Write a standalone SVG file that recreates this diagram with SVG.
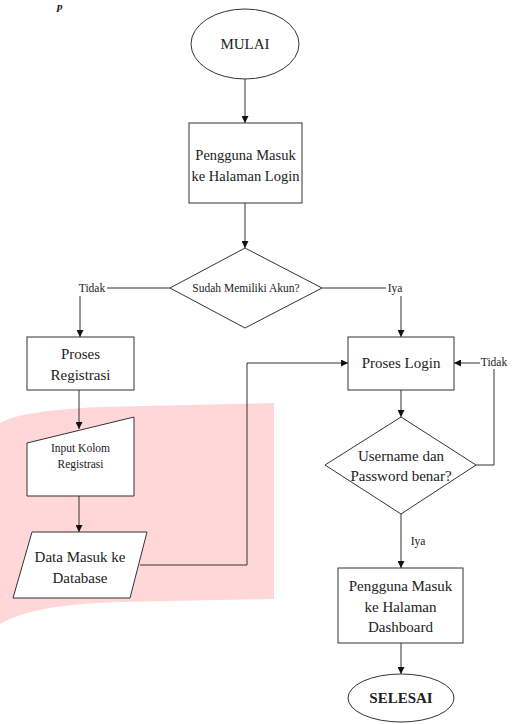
<svg xmlns="http://www.w3.org/2000/svg" width="512" height="724" viewBox="0 0 512 724">
  <defs>
    <marker id="arrow" viewBox="0 0 10 10" refX="10" refY="5" markerWidth="7" markerHeight="7" markerUnits="userSpaceOnUse" orient="auto">
      <path d="M0,0 L10,5 L0,10 Z" fill="#111"/>
    </marker>
    <style>
      .shape { fill: #fff; stroke: #333; stroke-width: 1; }
      .conn { fill: none; stroke: #333; stroke-width: 1; }
      text { font-family: 'Liberation Serif', 'DejaVu Serif', serif; }
      .lbl { fill: #222; text-anchor: middle; }
      .t15 { font-size: 15px; }
      .t11 { font-size: 11.5px; }
    </style>
  </defs>

  <rect x="0" y="0" width="512" height="724" fill="#fff"/>

  <!-- tinted background blob -->
  <path d="M0,423 C15,415 40,410 100,407 L274,403 L274,599 L120,602 C60,604 25,610 0,624 Z" fill="#ffd7d9"/>

  <!-- heading fragment at the top edge -->
  <text x="57" y="10" font-size="11" font-style="italic" font-weight="bold" fill="#111">p</text>

  <!-- connectors -->
  <g id="connectors">
    <line class="conn" x1="245" y1="79" x2="245" y2="123" marker-end="url(#arrow)"/>
    <line class="conn" x1="245" y1="203" x2="245" y2="248" marker-end="url(#arrow)"/>
    <line class="conn" x1="170" y1="288" x2="107" y2="288"/>
    <line class="conn" x1="80" y1="296" x2="80" y2="337" marker-end="url(#arrow)"/>
    <line class="conn" x1="322" y1="288" x2="386" y2="288"/>
    <line class="conn" x1="401" y1="296" x2="401" y2="337" marker-end="url(#arrow)"/>
    <line class="conn" x1="79" y1="390" x2="79" y2="429" marker-end="url(#arrow)"/>
    <line class="conn" x1="79" y1="496" x2="79" y2="532" marker-end="url(#arrow)"/>
    <polyline class="conn" points="140,565 247,565 247,363 348,363" marker-end="url(#arrow)"/>
    <line class="conn" x1="401" y1="390" x2="401" y2="417" marker-end="url(#arrow)"/>
    <polyline class="conn" points="476,465 494,465 494,369"/>
    <line class="conn" x1="480" y1="363" x2="454" y2="363" marker-end="url(#arrow)"/>
    <line class="conn" x1="401" y1="514" x2="401" y2="568" marker-end="url(#arrow)"/>
    <line class="conn" x1="401" y1="643" x2="401" y2="674" marker-end="url(#arrow)"/>
    <text class="lbl t11" x="92" y="292">Tidak</text>
    <text class="lbl t11" x="395" y="292">Iya</text>
    <text class="lbl t11" x="494" y="366">Tidak</text>
    <text class="lbl t11" x="418" y="545">Iya</text>
  </g>

  <g id="mulai">
    <ellipse class="shape" cx="245" cy="44" rx="54" ry="35"/>
    <text class="lbl t15" x="245" y="49">MULAI</text>
  </g>

  <g id="halaman-login">
    <rect class="shape" x="189" y="123" width="113" height="80"/>
    <text class="lbl" font-size="14.5" x="245.5" y="160">Pengguna Masuk</text>
    <text class="lbl" font-size="14.5" x="245.5" y="181">ke Halaman Login</text>
  </g>

  <g id="cek-akun">
    <polygon class="shape" points="245,248 322,288 245,328 170,288"/>
    <text class="lbl t11" x="246" y="292">Sudah Memiliki Akun?</text>
  </g>

  <g id="proses-registrasi">
    <rect class="shape" x="27" y="337" width="107" height="53"/>
    <text class="lbl t15" x="80.5" y="359">Proses</text>
    <text class="lbl t15" x="80.5" y="380">Registrasi</text>
  </g>

  <g id="input-registrasi">
    <polygon class="shape" points="27,443 134,417 134,496 27,496"/>
    <text class="lbl t11" x="80.5" y="452">Input Kolom</text>
    <text class="lbl t11" x="80.5" y="468">Registrasi</text>
  </g>

  <g id="data-database">
    <polygon class="shape" points="32,532 147,532 130,598 13,598"/>
    <text class="lbl t15" x="80" y="562">Data Masuk ke</text>
    <text class="lbl t15" x="80" y="583">Database</text>
  </g>

  <g id="proses-login">
    <rect class="shape" x="348" y="337" width="106" height="53"/>
    <text class="lbl t15" x="401" y="368">Proses Login</text>
  </g>

  <g id="cek-password">
    <polygon class="shape" points="401,417 476,465 401,514 325,465"/>
    <text class="lbl t15" x="401" y="461">Username dan</text>
    <text class="lbl t15" x="401" y="481">Password benar?</text>
  </g>

  <g id="halaman-dashboard">
    <rect class="shape" x="338" y="568" width="125" height="75"/>
    <text class="lbl t15" x="400.5" y="591">Pengguna Masuk</text>
    <text class="lbl t15" x="400.5" y="612">ke Halaman</text>
    <text class="lbl t15" x="400.5" y="632">Dashboard</text>
  </g>

  <g id="selesai">
    <ellipse class="shape" cx="401" cy="698" rx="53" ry="24"/>
    <text class="lbl t15" x="401" y="703" font-weight="bold">SELESAI</text>
  </g>
</svg>
